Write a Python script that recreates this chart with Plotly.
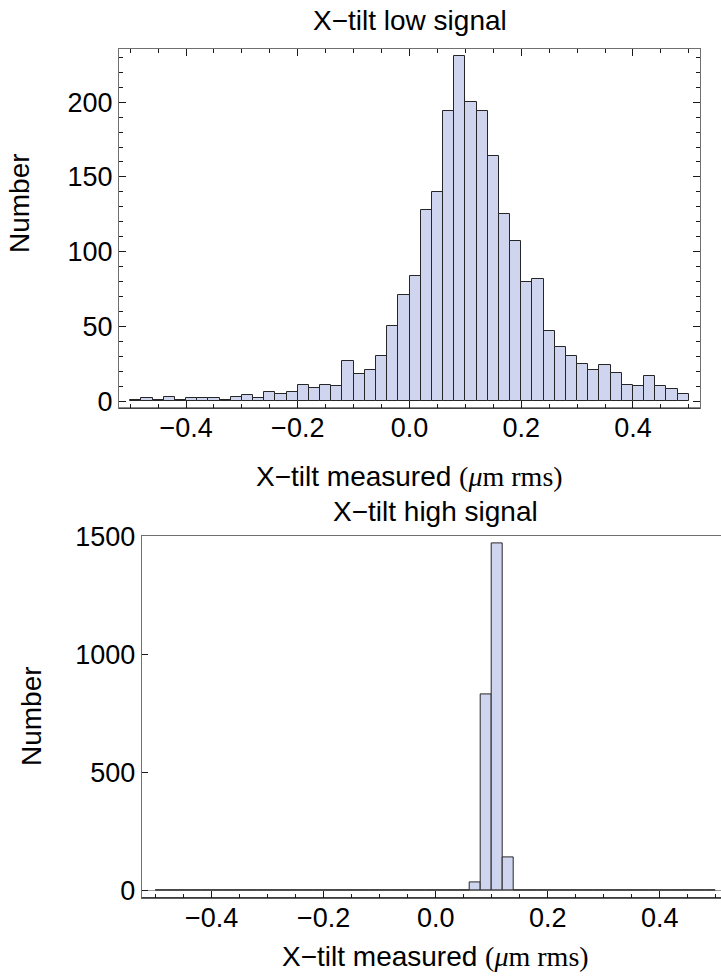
import plotly.graph_objects as go

# ---------------- data ----------------
bin_start = -0.5
bin_width = 0.02
low_counts = [1, 2, 1, 3, 1, 2, 2, 2, 1, 3,
              4, 2, 6, 5, 6, 11, 9, 11, 10, 27,
              18, 21, 30, 50, 71, 84, 128, 140, 194, 231,
              200, 194, 164, 125, 107, 80, 82, 47, 36, 30,
              25, 21, 24, 19, 11, 10, 17, 10, 8, 5]
high_counts = [0] * 28 + [35, 833, 1472, 141, 3] + [0] * 17

low_title = "X\u2212tilt low signal"
high_title = "X\u2212tilt high signal"
x_label = 'X\u2212tilt measured <span style="font-family:Liberation Serif, Times New Roman, serif">(<i>\u03bc</i>m rms)</span>'
y_label = "Number"

centers = [round(bin_start + bin_width * (i + 0.5), 4) for i in range(len(low_counts))]

W, H = 721, 977
FONT = "Liberation Sans, Arial, Helvetica, sans-serif"
FILL = "#cfd5ee"
EDGE = "#262626"
FRAME = "#707070"
TICK = "#1a1a1a"


def px_x(p):
    return p / W


def px_y(p):
    return 1 - p / H


fig = go.Figure()
fig.add_trace(go.Bar(x=centers, y=low_counts, width=bin_width, xaxis="x", yaxis="y",
                     marker=dict(color=FILL, line=dict(color=EDGE, width=1)),
                     showlegend=False))
fig.add_trace(go.Bar(x=centers, y=high_counts, width=bin_width, xaxis="x2", yaxis="y2",
                     marker=dict(color=FILL, line=dict(color=EDGE, width=1)),
                     showlegend=False))

tickfont = dict(family=FONT, size=27, color="black")

common_x = dict(showline=True, linecolor=FRAME, linewidth=1, ticks="inside", ticklen=7,
                tickcolor=TICK, tickwidth=1, tickvals=[-0.4, -0.2, 0.0, 0.2, 0.4],
                tickformat=".1f", showgrid=False, zeroline=False, tickfont=tickfont,
                minor=dict(dtick=0.05, tick0=0, ticks="inside", ticklen=4, tickcolor=TICK,
                           tickwidth=1, showgrid=False),
                ticklabelstandoff=-4, fixedrange=True, automargin=False)

fig.update_layout(
    template="none",
    width=W, height=H, margin=dict(l=0, r=0, t=0, b=0, pad=0, autoexpand=False),
    paper_bgcolor="white", plot_bgcolor="white", bargap=0,
    xaxis=dict(common_x, domain=[px_x(119), px_x(700)], range=[-0.52, 0.52],
               anchor="y", mirror="allticks"),
    yaxis=dict(domain=[px_y(408), px_y(49)], range=[-4.62, 235.6], anchor="x",
               showline=True, linecolor=FRAME, linewidth=1, mirror="allticks",
               ticks="inside", ticklen=7, tickcolor=TICK, tickwidth=1,
               tickvals=[0, 50, 100, 150, 200], showgrid=False, zeroline=False,
               tickfont=tickfont, ticklabelstandoff=0, automargin=False,
               minor=dict(dtick=10, tick0=0, ticks="inside", ticklen=4, tickcolor=TICK,
                          tickwidth=1, showgrid=False), fixedrange=True),
    xaxis2=dict(common_x, domain=[px_x(141.7), 1.0], range=[-0.525, 0.5095],
                anchor="y2", mirror=True),
    yaxis2=dict(domain=[px_y(897.7), px_y(536.4)], range=[-29.4, 1501.4], anchor="x2",
                showline=True, linecolor=FRAME, linewidth=1, mirror=False,
                ticks="inside", ticklen=6, tickcolor=TICK, tickwidth=1,
                tickvals=[0, 500, 1000, 1500], showgrid=False,
                zeroline=True, zerolinecolor="#9a9a9a", zerolinewidth=1,
                tickfont=tickfont, ticklabelstandoff=0, fixedrange=True,
                automargin=False),
)

# darker bottom frame lines
for xr, yr in (("x domain", "y domain"), ("x2 domain", "y2 domain")):
    fig.add_shape(type="line", xref=xr, yref=yr, x0=0, x1=1, y0=0, y1=0,
                  line=dict(color="#111111", width=1), layer="above")

labfont = dict(family=FONT, size=28, color="black")
ann = [
    (low_title, px_x(409.5), px_y(20), 0),
    (x_label, px_x(409.5), px_y(476), 0),
    (y_label, px_x(19), px_y(203), -90),
    (high_title, px_x(435.7), px_y(511), 0),
    (x_label, px_x(435.7), px_y(956), 0),
    (y_label, px_x(31), px_y(716), -90),
]
for text, x, y, ang in ann:
    fig.add_annotation(text=text, x=x, y=y, xref="paper", yref="paper",
                       xanchor="center", yanchor="middle", showarrow=False,
                       textangle=ang, font=labfont)

fig.write_html("out.html", config={"displayModeBar": False})
